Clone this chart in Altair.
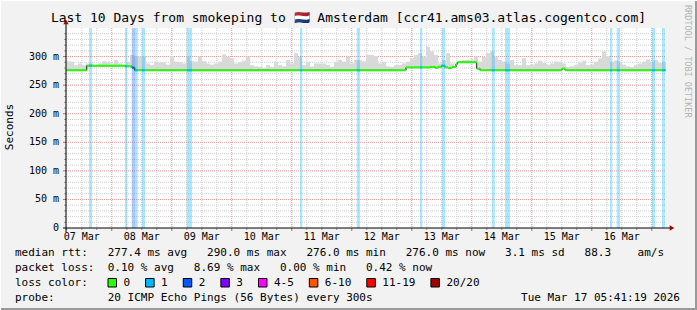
import altair as alt
import pandas as pd

# ---------------- data ----------------
title_text = "Last 10 Days from smokeping to \U0001F1F3\U0001F1F1 Amsterdam [ccr41.ams03.atlas.cogentco.com]"
end_stamp = "Tue Mar 17 05:41:19 2026"
probe_text = "20 ICMP Echo Pings (56 Bytes) every 300s"
day_labels = ["07 Mar", "08 Mar", "09 Mar", "10 Mar", "11 Mar",
              "12 Mar", "13 Mar", "14 Mar", "15 Mar", "16 Mar"]
window_hours = 240.0
first_6h_mark = 0.3114          # 07 Mar 06:00, in hours after window start 05:41:19

y_ticks = [0, 50, 100, 150, 200, 250, 300]
y_tick_labels = ["0\u00a0\u00a0", "50 m", "100 m", "150 m", "200 m", "250 m", "300 m"]

# smoke (max of pings) per 1.6 h column, ms
smoke_col_hours = 1.6
smoke_top = [
    292, 291, 285, 288, 285, 288, 288, 285, 288, 292, 291, 288, 294, 288, 286, 291, 303, 301, 300, 301,
    288, 285, 291, 290, 290, 286, 301, 291, 290, 288, 300, 292, 291, 300, 292, 288, 286,
    288, 291, 304, 300, 297, 288, 290, 293, 300, 285, 283, 282, 280, 285, 282, 291, 285, 283, 294,
    288, 306, 299, 285, 291, 283, 288, 288, 288, 285, 282, 291, 294, 291, 300, 288, 294, 294, 292,
    303, 303, 301, 288, 291, 283, 282, 285, 285, 288, 291, 297, 303, 306, 300, 317, 309, 303, 288,
    294, 306, 288, 288, 291, 294, 294, 295, 300, 291, 300, 306, 309, 300, 294, 291, 288, 294,
    285, 285, 297, 285, 286, 288, 293, 289, 286, 288, 291, 291, 288, 282, 283, 285, 290, 293, 285,
    286, 291, 297, 309, 301, 291, 293, 291, 286, 283, 282, 285, 288, 291, 295, 291, 294, 289, 291,
]

# median rtt as steps (hour of change, ms)
med_start = [0.0, 8.3, 23.6, 26.4, 27.5, 136.0, 145.6, 147.6, 148.8, 150.3, 151.6,
             152.8, 154.4, 156.0, 156.6, 164.3, 165.6, 198.4, 199.6]
med_val = [276, 284, 283, 280.5, 276, 281, 282, 280.5, 282, 284, 281,
           280, 282, 287, 290, 279, 276, 279, 276]

# packet loss intervals (hours) and loss colour index
loss_start = [9.2, 23.6, 26.3, 27.7, 30.3, 48.3, 93.6, 116.3, 141.6, 150.3,
              170.3, 175.6, 217.6, 220.3, 234.4, 238.4]
loss_end = [10.4, 24.5, 27.7, 28.7, 31.6, 50.4, 94.5, 117.6, 142.5, 151.6,
            171.5, 177.6, 218.5, 221.6, 235.6, 239.6]
loss_level = [1, 1, 2, 1, 1, 1, 1, 1, 1, 1, 1, 1, 1, 1, 1, 1]

loss_labels = ["0", "1", "2", "3", "4-5", "6-10", "11-19", "20/20"]
loss_colors = ["#26ff00", "#00b8ff", "#0059ff", "#7e00ff", "#ff00ff", "#ff5500", "#ff0000", "#a10000"]

rtt_stats = [277.4, 290.0, 276.0, 276.0]
rtt_names = ["avg", "max", "min", "now"]
rtt_sd = 3.1
rtt_ams = 88.3
loss_stats = [0.10, 8.69, 0.00, 0.42]

# ---------------- helpers ----------------
W, H = 600, 200
FONT = "DejaVu Sans Mono"
NB = "\u00a0"
xs = alt.Scale(domain=[0, window_hours], nice=False, zero=False)
ys = alt.Scale(domain=[0, 350], nice=False, zero=False)


def X(f):
    return alt.X(f, type="quantitative", scale=xs, axis=None)


def Y(f):
    return alt.Y(f, type="quantitative", scale=ys, axis=None)


one = pd.DataFrame({"k": [0]})


def med_at(h):
    v = med_val[0]
    for s, m in zip(med_start, med_val):
        if s <= h:
            v = m
    return v


def txt(s, x, y, size=11, align="left", angle=None, color="black"):
    kw = dict(align=align, baseline="middle", font=FONT, fontSize=size, color=color)
    if angle is not None:
        kw["angle"] = angle
    return alt.Chart(one).mark_text(**kw).encode(x=alt.value(x), y=alt.value(y), text=alt.value(s))


# ---------------- tables ----------------
hmin = pd.DataFrame({"y": [v for v in range(10, 350, 10) if v % 50]})
hmaj = pd.DataFrame({"y": [v for v in range(50, 350, 50)]})
six = [first_6h_mark + 6 * k for k in range(40)]
vmin = pd.DataFrame({"x": [h for k, h in enumerate(six) if k % 4 != 3]})
vmaj = pd.DataFrame({"x": [h for k, h in enumerate(six) if k % 4 == 3]})
noon = pd.DataFrame({"x": [h for k, h in enumerate(six) if k % 4 == 1][:len(day_labels)],
                     "t": day_labels})
ylab = pd.DataFrame({"y": y_ticks, "t": y_tick_labels})

smoke = pd.DataFrame({
    "x0": [i * smoke_col_hours for i in range(len(smoke_top))],
    "x1": [(i + 1) * smoke_col_hours for i in range(len(smoke_top))],
    "lo": [med_at((i + 0.5) * smoke_col_hours) for i in range(len(smoke_top))],
    "hi": [max(t, med_at((i + 0.5) * smoke_col_hours)) for i, t in enumerate(smoke_top)],
})

bands = pd.DataFrame({"x0": loss_start, "x1": loss_end,
                      "c": [loss_colors[l] for l in loss_level]})

med_end = med_start[1:] + [window_hours]
medseg = pd.DataFrame({"x0": med_start, "x1": med_end, "y": med_val})
medline = pd.DataFrame({"x": med_start + [window_hours], "y": med_val + [med_val[-1]]})

# loss-coloured pieces of the median line
pieces = []
for s, e, l in zip(loss_start, loss_end, loss_level):
    for ms, me, mv in zip(med_start, med_end, med_val):
        a, b = max(s, ms), min(e, me)
        if b > a:
            pieces.append({"x0": a, "x1": b, "y": mv, "c": loss_colors[l]})
lossseg = pd.DataFrame(pieces)

# ---------------- layers ----------------
GRID = "#cfcfcf"
MAJ = "#e59a9a"
layers = [
    alt.Chart(hmin).mark_rule(color=GRID, strokeDash=[1, 1]).encode(y=Y("y"), x=alt.value(0), x2=alt.value(W)),
    alt.Chart(vmin).mark_rule(color=GRID, strokeDash=[1, 1]).encode(x=X("x"), y=alt.value(0), y2=alt.value(H)),
    alt.Chart(hmaj).mark_rule(color=MAJ, strokeDash=[1, 1]).encode(y=Y("y"), x=alt.value(0), x2=alt.value(W)),
    alt.Chart(vmaj).mark_rule(color=MAJ, strokeDash=[1, 1]).encode(x=X("x"), y=alt.value(0), y2=alt.value(H)),
    # ticks outside the plot
    alt.Chart(hmin).mark_rule(color="#999999").encode(y=Y("y"), x=alt.value(-2), x2=alt.value(0)),
    alt.Chart(hmaj).mark_rule(color="#d06060").encode(y=Y("y"), x=alt.value(-3), x2=alt.value(0)),
    alt.Chart(vmin).mark_rule(color="#999999").encode(x=X("x"), y=alt.value(H), y2=alt.value(H + 2)),
    alt.Chart(vmaj).mark_rule(color="#d06060").encode(x=X("x"), y=alt.value(H), y2=alt.value(H + 3)),
    # smoke
    alt.Chart(smoke).mark_rect(color="#d9d9d9").encode(x=X("x0"), x2="x1", y=Y("lo"), y2="hi"),
    # loss bands
    alt.Chart(bands).mark_rect(opacity=0.33).encode(
        x=X("x0"), x2="x1", y=alt.value(0), y2=alt.value(H), color=alt.Color("c:N", scale=None)),
    # median
    alt.Chart(medline).mark_line(interpolate="step-after", color="black", strokeWidth=1).encode(x=X("x"), y=Y("y")),
    alt.Chart(medseg).mark_rule(color=loss_colors[0], strokeWidth=2).encode(x=X("x0"), x2="x1", y=Y("y")),
    alt.Chart(lossseg).mark_rule(strokeWidth=2).encode(
        x=X("x0"), x2="x1", y=Y("y"), color=alt.Color("c:N", scale=None)),
    # axes
    alt.Chart(one).mark_rule(color="black").encode(x=alt.value(-3), x2=alt.value(W + 4), y=alt.value(H)),
    alt.Chart(one).mark_rule(color="black").encode(x=alt.value(0), y=alt.value(H + 4), y2=alt.value(-4)),
    alt.Chart(one).mark_point(shape="triangle-up", filled=True, size=28, color="#a00000", opacity=1).encode(
        x=alt.value(0), y=alt.value(-6)),
    alt.Chart(one).mark_point(shape="triangle-right", filled=True, size=28, color="#a00000", opacity=1).encode(
        x=alt.value(W + 6), y=alt.value(H)),
    # axis labels
    alt.Chart(noon).mark_text(font=FONT, fontSize=10, align="center", baseline="middle", color="black").encode(
        x=X("x"), y=alt.value(H + 9), text="t:N"),
    alt.Chart(ylab).mark_text(font=FONT, fontSize=10, align="right", baseline="middle", color="black").encode(
        y=Y("y"), x=alt.value(-7), text="t:N"),
    txt("Seconds", -56, 99, size=11, align="center", angle=270),
    txt(title_text, 282.5, -10, size=13, align="center"),
    txt("RRDTOOL / TOBI OETIKER", 622, -23, size=8.5, align="left", angle=90, color="#b4b4b4"),
]

# legend text lines
line1 = "median rtt:" + NB * 3 + (NB * 3).join(f"{v:.1f} ms {n}" for v, n in zip(rtt_stats, rtt_names)) \
    + NB * 3 + f"{rtt_sd:.1f} ms sd" + NB * 3 + f"{rtt_ams:.1f}" + NB * 4 + "am/s"
line2 = "packet loss:" + NB * 2 + (NB * 3).join(f"{v:.2f} % {n}" for v, n in zip(loss_stats, rtt_names))
layers += [
    txt(line1, -51, 225),
    txt(line2, -51, 240),
    txt("loss color:", -51, 255),
    txt("probe:" + NB * 8 + probe_text, -51, 270),
    txt(end_stamp, 614, 270, align="right"),
]

# loss colour swatches
bx = 42.0
for lab, col in zip(loss_labels, loss_colors):
    layers.append(alt.Chart(one).mark_rect(color=col, stroke="black", strokeWidth=1).encode(
        x=alt.value(bx), x2=alt.value(bx + 8.5), y=alt.value(250.5), y2=alt.value(259)))
    layers.append(txt(lab, bx + 15.5, 255))
    bx += 31 + 6.62 * len(lab)

# frame of the whole image
layers += [
    alt.Chart(one).mark_rule(color="#9a9a9a", strokeWidth=2).encode(x=alt.value(-66), x2=alt.value(631), y=alt.value(281)),
    alt.Chart(one).mark_rule(color="#9a9a9a", strokeWidth=2).encode(x=alt.value(630), y=alt.value(-28), y2=alt.value(282)),
    alt.Chart(one).mark_rule(color="white", strokeWidth=1).encode(x=alt.value(-66), x2=alt.value(631), y=alt.value(-27.5)),
    alt.Chart(one).mark_rule(color="white", strokeWidth=1).encode(x=alt.value(-65.5), y=alt.value(-28), y2=alt.value(282)),
]

chart = alt.layer(*layers).properties(
    width=W, height=H,
    padding={"left": 66, "top": 28, "right": 31, "bottom": 82},
    autosize=alt.AutoSizeParams(type="none"),
).configure(background="#f2f2f2").configure_view(fill="white", strokeWidth=0)

chart.save("out.html", embed_options={"renderer": "svg", "actions": False})
